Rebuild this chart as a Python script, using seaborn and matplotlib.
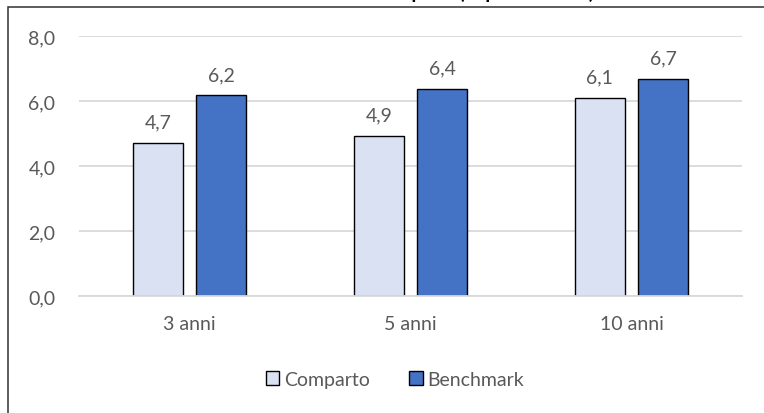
import matplotlib.pyplot as plt
import matplotlib.patches as mpatches
import pandas as pd
import seaborn as sns

# valori
periodi = ['3 anni', '5 anni', '10 anni']
comparto = [4.70, 4.93, 6.09]
benchmark = [6.17, 6.36, 6.69]
serie = ['Comparto', 'Benchmark']
colori = ['#DAE1F3', '#4472C4']
yticks = [0, 2, 4, 6, 8]
titolo = 'Rendimenti medi annui composti (in percentuale)'

df = pd.DataFrame({
    'periodo': periodi * 2,
    'valore': comparto + benchmark,
    'serie': [serie[0]] * len(periodi) + [serie[1]] * len(periodi),
})

sns.set_style('white')
plt.rcParams['font.family'] = ['Lato', 'DejaVu Sans']
testo = '#595959'
fs = 14

fig = plt.figure(figsize=(7.64, 4.14), dpi=100)
ax = fig.add_axes([0.1034, 0.2826, 0.8678, 0.628])

sns.barplot(data=df, x='periodo', y='valore', hue='serie',
            palette=colori, saturation=1, width=0.573, gap=0.206,
            edgecolor='black', linewidth=1, ax=ax, legend=False)

ax.set_ylim(0, 8)
ax.set_yticks(yticks)
ax.set_yticklabels([f'{v:.1f}'.replace('.', ',') for v in yticks])
ax.yaxis.grid(True, color='#D9D9D9', linewidth=1.3)
ax.set_axisbelow(True)
for s in ['top', 'right', 'left']:
    ax.spines[s].set_visible(False)
ax.spines['bottom'].set_color('#D9D9D9')
ax.spines['bottom'].set_linewidth(1.3)
ax.tick_params(axis='both', length=0, labelsize=fs, colors=testo)
ax.tick_params(axis='y', pad=17)
ax.tick_params(axis='x', pad=14)
ax.set_xlabel('')
ax.set_ylabel('')

for cont in ax.containers:
    etichette = [f'{b.get_height():.1f}'.replace('.', ',') for b in cont]
    ax.bar_label(cont, labels=etichette, padding=9, fontsize=fs, color=testo)

handles = [mpatches.Patch(facecolor=c, edgecolor='black', linewidth=1, label=s)
           for s, c in zip(serie, colori)]
fig.legend(handles=handles, loc='center', bbox_to_anchor=(0.517, 0.082),
           ncol=2, frameon=False, fontsize=fs, labelcolor=testo,
           handlelength=0.7, handleheight=0.7, handletextpad=0.25,
           columnspacing=2.0)

# cornice del grafico, tagliata a destra e in basso
fig.patches.append(mpatches.Rectangle((0.0105, -0.05), 1.1, 1.0307,
                                      transform=fig.transFigure, fill=False,
                                      edgecolor='#303030', linewidth=1.1))
# titolo tagliato dal bordo superiore, come nell'originale
fig.text(0.5, 1.003, titolo, ha='center', va='baseline', fontsize=14,
         fontweight='bold', color='black')

fig.savefig('out.png', dpi=100)
